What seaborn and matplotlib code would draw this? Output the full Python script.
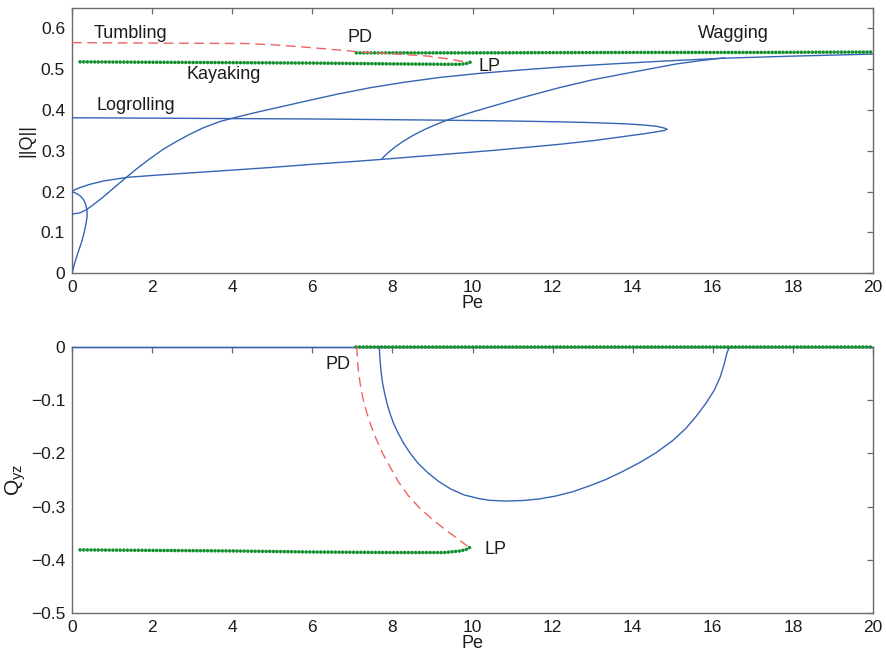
import matplotlib
matplotlib.use("Agg")
import matplotlib.pyplot as plt
from matplotlib.ticker import FuncFormatter
import seaborn as sns

# ---------------- branch data: Pe versus ||Q|| ----------------
tumbling_pe = [0.0, 2.0, 4.3, 5.0, 5.7, 6.3, 6.9, 7.2, 8.0, 8.9, 9.4, 9.7, 9.9]
tumbling_q = [0.565, 0.564, 0.563, 0.560, 0.555, 0.550, 0.545, 0.542, 0.538, 0.532, 0.525, 0.520, 0.517]

kayaking_pe = [0.2, 2.0, 4.0, 6.0, 8.0, 9.3, 9.7, 9.85, 9.94]
kayaking_q = [0.518, 0.517, 0.516, 0.515, 0.513, 0.512, 0.512, 0.514, 0.517]

wagging_pe = [7.1, 10.0, 14.0, 17.0, 20.0]
wagging_q = [0.540, 0.540, 0.541, 0.541, 0.542]

# logrolling: upper branch out to the turning point, lower branch back to Pe = 0
logrolling_pe = [0.0, 2.0, 4.0, 6.0, 7.2, 9.36, 11.0, 12.18, 13.02, 13.85, 14.3, 14.6, 14.78, 14.86,
                 14.8, 14.62, 14.3, 13.85, 13.02, 12.18, 10.52, 9.0, 7.73, 7.19, 6.0, 4.94, 3.28,
                 2.2, 1.37, 0.78, 0.45, 0.2, 0.08, 0.0]
logrolling_q = [0.381, 0.380, 0.379, 0.378, 0.377, 0.375, 0.373, 0.371, 0.369, 0.366, 0.363, 0.360, 0.356, 0.353,
                0.350, 0.347, 0.342, 0.336, 0.325, 0.316, 0.301, 0.289, 0.279, 0.275, 0.267, 0.259, 0.248,
                0.241, 0.235, 0.226, 0.218, 0.210, 0.205, 0.200]

# small arc joining the isotropic state to the logrolling branch
arc_pe = [0.0, 0.075, 0.158, 0.241, 0.308, 0.35, 0.375, 0.375, 0.34, 0.283, 0.2, 0.1, 0.0]
arc_q = [0.0, 0.028, 0.053, 0.077, 0.102, 0.122, 0.138, 0.155, 0.169, 0.181, 0.190, 0.196, 0.200]

# in-plane branch rising towards the wagging solution
rising_pe = [0.0, 0.2, 0.366, 0.574, 0.782, 1.03, 1.32, 1.615, 1.95, 2.28, 2.61, 2.95, 3.28, 3.70,
             4.15, 4.61, 5.11, 5.78, 6.61, 7.44, 8.3, 9.2, 10.2, 11.2, 12.3, 13.5, 14.8, 16.3, 18.0, 20.0]
rising_q = [0.145, 0.148, 0.156, 0.171, 0.187, 0.208, 0.232, 0.256, 0.281, 0.304, 0.323, 0.341, 0.3565, 0.372,
            0.3835, 0.3945, 0.4055, 0.4205, 0.4385, 0.4545, 0.468, 0.480, 0.490, 0.498, 0.506, 0.513,
            0.520, 0.527, 0.532, 0.537]

# out-of-plane branch between the two pitchforks
oop_pe = [7.73, 7.8, 7.9, 8.05, 8.25, 8.5, 8.8, 9.1, 9.36, 9.7, 10.1, 10.52, 11.3, 12.18, 13.0,
          13.85, 14.5, 15.1, 15.7, 16.3]
oop_q = [0.279, 0.287, 0.296, 0.308, 0.322, 0.337, 0.352, 0.365, 0.375, 0.386, 0.398, 0.410, 0.432, 0.455,
         0.474, 0.490, 0.502, 0.513, 0.521, 0.528]

# ---------------- branch data: Pe versus Q_yz ----------------
inplane_pe = [0.0, 20.0]
inplane_qyz = [0.0, 0.0]

wagging_qyz = [0.0, 0.0, 0.0, 0.0, 0.0]

kayaking_qyz = [-0.381, -0.382, -0.383, -0.385, -0.386, -0.386, -0.383, -0.380, -0.376]

tumbling_yz_pe = [7.11, 7.126, 7.157, 7.207, 7.273, 7.365, 7.473, 7.606, 7.756, 7.938, 8.155, 8.404,
                  8.687, 9.0, 9.335, 9.626, 9.875]
tumbling_qyz = [0.0, -0.025, -0.05, -0.075, -0.1, -0.125, -0.15, -0.175, -0.2, -0.225, -0.254, -0.28,
                -0.303, -0.324, -0.344, -0.360, -0.374]

oop_yz_pe = [7.672, 7.681, 7.697, 7.722, 7.756, 7.806, 7.864, 7.938, 8.03, 8.146, 8.279, 8.446, 8.645,
             8.878, 9.152, 9.46, 9.792, 10.17, 10.42, 10.83, 11.25, 11.67, 12.08, 12.5, 12.92, 13.33,
             13.75, 14.17, 14.58, 15.0, 15.33, 15.58, 15.83, 16.04, 16.19, 16.29, 16.35, 16.4, 16.46]
oop_qyz = [0.0, -0.0125, -0.031, -0.05, -0.069, -0.0875, -0.106, -0.125, -0.144, -0.1625, -0.181, -0.2,
           -0.219, -0.236, -0.2525, -0.267, -0.278, -0.285, -0.288, -0.2895, -0.2885, -0.2855, -0.28,
           -0.272, -0.261, -0.249, -0.234, -0.2175, -0.199, -0.176, -0.153, -0.131, -0.106, -0.081,
           -0.056, -0.031, -0.0125, -0.003, 0.0]

q_ticks = [0.0, 0.1, 0.2, 0.3, 0.4, 0.5, 0.6]
qyz_ticks = [-0.5, -0.4, -0.3, -0.2, -0.1, 0.0]
pe_ticks = [0, 2, 4, 6, 8, 10, 12, 14, 16, 18, 20]

# ---------------- styling ----------------
sns.set_theme(style="white")
plt.rcParams["font.family"] = ["Liberation Sans", "DejaVu Sans"]
plt.rcParams["axes.unicode_minus"] = True

BLUE = "#3565b4"
RED = "#f06262"
GREEN = "#14902e"
SPINE = "#6a6a6a"
TEXT = "#1c1c1c"
FS_TICK = 12.5
FS = 13

fig = plt.figure(figsize=(8.87, 6.58), dpi=100)
ax1 = fig.add_axes([0.0812, 0.5847, 0.9030, 0.4032])
ax2 = fig.add_axes([0.0812, 0.0679, 0.9030, 0.4052])


def solid(ax, x, y, **kw):
    sns.lineplot(x=x, y=y, sort=False, estimator=None, ax=ax, color=BLUE,
                 linewidth=1.0, zorder=3, **kw)


def dashed(ax, x, y, **kw):
    sns.lineplot(x=x, y=y, sort=False, estimator=None, ax=ax, color=RED,
                 linewidth=1.0, linestyle=(0, (7, 4)), zorder=5, **kw)


def dotted(ax, x, y, **kw):
    sns.lineplot(x=x, y=y, sort=False, estimator=None, ax=ax, color=GREEN,
                 linewidth=2.6, linestyle=(0, (0.01, 1.0)), dash_capstyle="round",
                 zorder=4, **kw)


# upper panel
solid(ax1, logrolling_pe, logrolling_q)
solid(ax1, arc_pe, arc_q)
solid(ax1, rising_pe, rising_q)
solid(ax1, oop_pe, oop_q)
dotted(ax1, kayaking_pe, kayaking_q)
dotted(ax1, wagging_pe, wagging_q)
dashed(ax1, tumbling_pe, tumbling_q)

# lower panel
solid(ax2, inplane_pe, inplane_qyz, clip_on=False)
solid(ax2, oop_yz_pe, oop_qyz, clip_on=False)
dotted(ax2, kayaking_pe, kayaking_qyz)
dotted(ax2, wagging_pe, wagging_qyz, clip_on=False)
dashed(ax2, tumbling_yz_pe, tumbling_qyz, clip_on=False)

fmt = FuncFormatter(lambda v, p: ("%g" % (round(v, 6) + 0.0)).replace("-", "\u2212"))

for ax, yt, ylim in ((ax1, q_ticks, (0, 0.65)), (ax2, qyz_ticks, (-0.5, 0))):
    ax.set_xlim(0, 20)
    ax.set_ylim(*ylim)
    ax.set_xticks(pe_ticks)
    ax.set_yticks(yt)
    ax.yaxis.set_major_formatter(fmt)
    ax.xaxis.set_major_formatter(fmt)
    ax.tick_params(direction="in", length=4.5, width=0.9, color=SPINE,
                   top=True, right=True, labelsize=FS_TICK, labelcolor=TEXT, pad=5)
    for s in ax.spines.values():
        s.set_visible(True)
        s.set_color(SPINE)
        s.set_linewidth(1.0)
    ax.set_facecolor("white")
    ax.set_xlabel("Pe", fontsize=FS, color=TEXT, labelpad=0)

ax1.set_ylabel("||Q||", fontsize=FS, color=TEXT, labelpad=4)
ax2.set_ylabel(r"$\mathregular{Q_{yz}}$", fontsize=FS + 2, color=TEXT, labelpad=2)

# branch names
lbl = dict(fontsize=FS, color=TEXT, ha="left", va="center", zorder=6)
ax1.text(0.55, 0.588, "Tumbling", **lbl)
ax1.text(2.85, 0.487, "Kayaking", **lbl)
ax1.text(0.60, 0.411, "Logrolling", **lbl)
ax1.text(6.89, 0.578, "PD", **lbl)
ax1.text(10.16, 0.507, "LP", **lbl)
ax1.text(15.63, 0.588, "Wagging", **lbl)
ax2.text(6.33, -0.034, "PD", **lbl)
ax2.text(10.3, -0.38, "LP", **lbl)

fig.savefig("out.png", dpi=100, facecolor="white")
